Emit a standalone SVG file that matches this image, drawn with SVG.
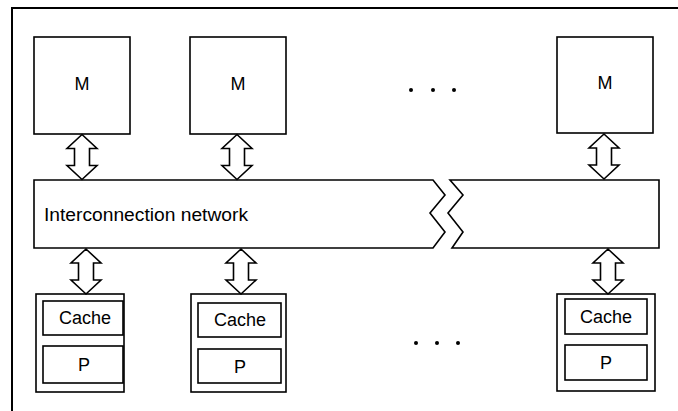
<svg xmlns="http://www.w3.org/2000/svg" xmlns:xlink="http://www.w3.org/1999/xlink" width="678" height="411" viewBox="0 0 678 411">
<style>
.box{fill:#fff;stroke:#000;stroke-width:1.6}
.arr{fill:#fff;stroke:#000;stroke-width:1.6;stroke-linejoin:miter}
.lbl{font-family:"Liberation Sans",Arial,sans-serif;font-size:18px;fill:#000;text-anchor:middle}
.dot{fill:#000}
</style>
<defs>
<polygon id="dbl" points="0,0 15,14 7.5,14 7.5,31 15,31 0,45 -15,31 -7.5,31 -7.5,14 -15,14"/>
</defs>
<rect width="678" height="411" fill="#fff"/>
<g id="frame" fill="none" stroke="#000" stroke-width="2">
<path d="M12,411 V8 H678"/>
</g>
<g id="network">
<path class="box" d="M433,180 H34 V248 H433 L445,232 L430,213 L445,195 Z"/>
<path class="box" d="M450,180 H659 V248 H452 L463,232 L448,213 L463,195 Z"/>
<text x="44" y="221" font-family="Liberation Sans, Arial, sans-serif" font-size="18" textLength="204" lengthAdjust="spacingAndGlyphs">Interconnection network</text>
</g>
<g id="m1"><rect class="box" x="34" y="37" width="96" height="97"/><text class="lbl" x="82" y="90">M</text></g>
<g id="m2"><rect class="box" x="190" y="37" width="96" height="97"/><text class="lbl" x="238" y="90">M</text></g>
<g id="m3"><rect class="box" x="557" y="37" width="96" height="96"/><text class="lbl" x="605" y="89">M</text></g>
<g id="dots-top"><circle class="dot" cx="411" cy="90" r="2"/><circle class="dot" cx="433" cy="90" r="2"/><circle class="dot" cx="454" cy="90" r="2"/></g>
<g id="p1"><rect class="box" x="36" y="294" width="88" height="98"/>
<rect class="box" x="43" y="301" width="80" height="34"/><text class="lbl" x="85" y="324">Cache</text>
<rect class="box" x="43" y="346" width="80" height="37"/><text class="lbl" x="84" y="371">P</text></g>
<g id="p2"><rect class="box" x="191" y="294" width="95" height="98"/>
<rect class="box" x="198" y="303" width="83" height="34"/><text class="lbl" x="240" y="326">Cache</text>
<rect class="box" x="198" y="349" width="83" height="34"/><text class="lbl" x="240" y="373">P</text></g>
<g id="p3"><rect class="box" x="557" y="294" width="98" height="97"/>
<rect class="box" x="565" y="299" width="82" height="35"/><text class="lbl" x="606" y="323">Cache</text>
<rect class="box" x="565" y="345" width="82" height="35"/><text class="lbl" x="606" y="369">P</text></g>
<g id="dots-bottom"><circle class="dot" cx="416" cy="343" r="2"/><circle class="dot" cx="437" cy="343" r="2"/><circle class="dot" cx="458" cy="343" r="2"/></g>
<g id="connectors">
<use xlink:href="#dbl" class="arr" transform="translate(82,134.5)"/>
<use xlink:href="#dbl" class="arr" transform="translate(237,134.5)"/>
<use xlink:href="#dbl" class="arr" transform="translate(604,134)"/>
<use xlink:href="#dbl" class="arr" transform="translate(86,249)"/>
<use xlink:href="#dbl" class="arr" transform="translate(241,249)"/>
<use xlink:href="#dbl" class="arr" transform="translate(608,249)"/>
</g>
</svg>
